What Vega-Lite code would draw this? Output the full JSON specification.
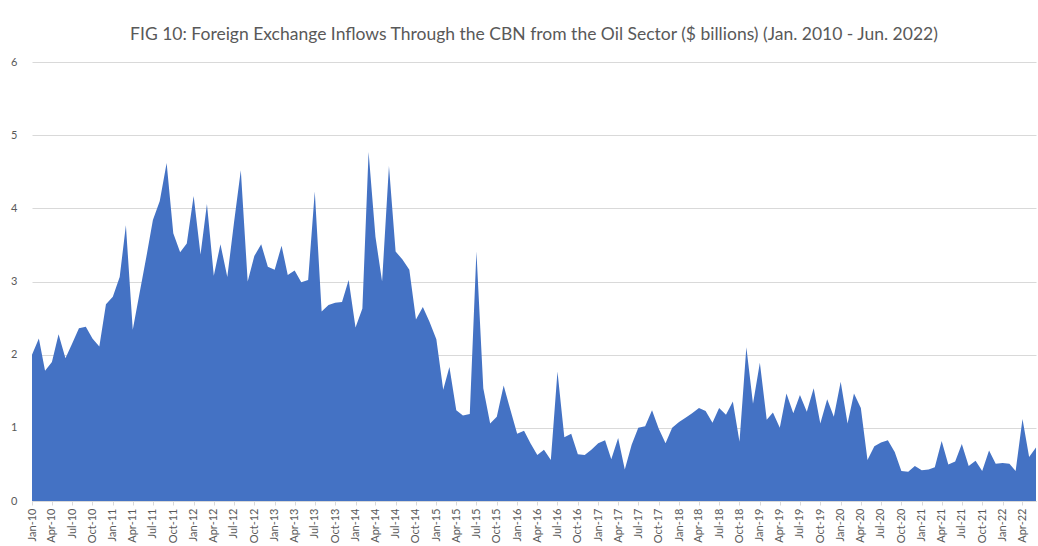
{
  "$schema": "https://vega.github.io/schema/vega-lite/v6.json",
  "autosize": "none",
  "width": 1004,
  "height": 439,
  "padding": {"left": 32, "top": 62, "right": 2, "bottom": 45},
  "background": "white",
  "title": {
    "text": "FIG 10: Foreign Exchange Inflows Through the CBN from the Oil Sector ($ billions) (Jan. 2010  - Jun. 2022)",
    "font": "Lato",
    "fontSize": 17.5,
    "fontWeight": "normal",
    "color": "#595959",
    "anchor": "middle",
    "offset": 13
  },
  "config": {
    "view": {"stroke": null},
    "axis": {"labelFont": "Lato", "labelColor": "#595959", "labelFontSize": 11}
  },
  "data": {
    "values": [
      {"m": "2010-01-01", "v": 2.00}, {"m": "2010-02-01", "v": 2.22}, {"m": "2010-03-01", "v": 1.78}, {"m": "2010-04-01", "v": 1.90},
      {"m": "2010-05-01", "v": 2.28}, {"m": "2010-06-01", "v": 1.95}, {"m": "2010-07-01", "v": 2.15}, {"m": "2010-08-01", "v": 2.36},
      {"m": "2010-09-01", "v": 2.38}, {"m": "2010-10-01", "v": 2.22}, {"m": "2010-11-01", "v": 2.11}, {"m": "2010-12-01", "v": 2.69},
      {"m": "2011-01-01", "v": 2.79}, {"m": "2011-02-01", "v": 3.06}, {"m": "2011-03-01", "v": 3.77}, {"m": "2011-04-01", "v": 2.34},
      {"m": "2011-05-01", "v": 2.83}, {"m": "2011-06-01", "v": 3.33}, {"m": "2011-07-01", "v": 3.84}, {"m": "2011-08-01", "v": 4.10},
      {"m": "2011-09-01", "v": 4.62}, {"m": "2011-10-01", "v": 3.66}, {"m": "2011-11-01", "v": 3.40}, {"m": "2011-12-01", "v": 3.52},
      {"m": "2012-01-01", "v": 4.17}, {"m": "2012-02-01", "v": 3.37}, {"m": "2012-03-01", "v": 4.06}, {"m": "2012-04-01", "v": 3.08},
      {"m": "2012-05-01", "v": 3.51}, {"m": "2012-06-01", "v": 3.06}, {"m": "2012-07-01", "v": 3.80}, {"m": "2012-08-01", "v": 4.52},
      {"m": "2012-09-01", "v": 3.00}, {"m": "2012-10-01", "v": 3.35}, {"m": "2012-11-01", "v": 3.51}, {"m": "2012-12-01", "v": 3.20},
      {"m": "2013-01-01", "v": 3.16}, {"m": "2013-02-01", "v": 3.49}, {"m": "2013-03-01", "v": 3.09}, {"m": "2013-04-01", "v": 3.15},
      {"m": "2013-05-01", "v": 2.99}, {"m": "2013-06-01", "v": 3.02}, {"m": "2013-07-01", "v": 4.23}, {"m": "2013-08-01", "v": 2.59},
      {"m": "2013-09-01", "v": 2.68}, {"m": "2013-10-01", "v": 2.71}, {"m": "2013-11-01", "v": 2.72}, {"m": "2013-12-01", "v": 3.02},
      {"m": "2014-01-01", "v": 2.37}, {"m": "2014-02-01", "v": 2.63}, {"m": "2014-03-01", "v": 4.77}, {"m": "2014-04-01", "v": 3.61},
      {"m": "2014-05-01", "v": 3.00}, {"m": "2014-06-01", "v": 4.58}, {"m": "2014-07-01", "v": 3.41}, {"m": "2014-08-01", "v": 3.30},
      {"m": "2014-09-01", "v": 3.16}, {"m": "2014-10-01", "v": 2.48}, {"m": "2014-11-01", "v": 2.65}, {"m": "2014-12-01", "v": 2.45},
      {"m": "2015-01-01", "v": 2.21}, {"m": "2015-02-01", "v": 1.52}, {"m": "2015-03-01", "v": 1.83}, {"m": "2015-04-01", "v": 1.24},
      {"m": "2015-05-01", "v": 1.17}, {"m": "2015-06-01", "v": 1.19}, {"m": "2015-07-01", "v": 3.41}, {"m": "2015-08-01", "v": 1.54},
      {"m": "2015-09-01", "v": 1.06}, {"m": "2015-10-01", "v": 1.15}, {"m": "2015-11-01", "v": 1.58}, {"m": "2015-12-01", "v": 1.25},
      {"m": "2016-01-01", "v": 0.92}, {"m": "2016-02-01", "v": 0.96}, {"m": "2016-03-01", "v": 0.79}, {"m": "2016-04-01", "v": 0.63},
      {"m": "2016-05-01", "v": 0.70}, {"m": "2016-06-01", "v": 0.56}, {"m": "2016-07-01", "v": 1.77}, {"m": "2016-08-01", "v": 0.87},
      {"m": "2016-09-01", "v": 0.92}, {"m": "2016-10-01", "v": 0.64}, {"m": "2016-11-01", "v": 0.63}, {"m": "2016-12-01", "v": 0.70},
      {"m": "2017-01-01", "v": 0.79}, {"m": "2017-02-01", "v": 0.83}, {"m": "2017-03-01", "v": 0.57}, {"m": "2017-04-01", "v": 0.86},
      {"m": "2017-05-01", "v": 0.43}, {"m": "2017-06-01", "v": 0.77}, {"m": "2017-07-01", "v": 1.00}, {"m": "2017-08-01", "v": 1.02},
      {"m": "2017-09-01", "v": 1.24}, {"m": "2017-10-01", "v": 0.99}, {"m": "2017-11-01", "v": 0.79}, {"m": "2017-12-01", "v": 1.00},
      {"m": "2018-01-01", "v": 1.08}, {"m": "2018-02-01", "v": 1.14}, {"m": "2018-03-01", "v": 1.20}, {"m": "2018-04-01", "v": 1.27},
      {"m": "2018-05-01", "v": 1.23}, {"m": "2018-06-01", "v": 1.07}, {"m": "2018-07-01", "v": 1.27}, {"m": "2018-08-01", "v": 1.18},
      {"m": "2018-09-01", "v": 1.36}, {"m": "2018-10-01", "v": 0.81}, {"m": "2018-11-01", "v": 2.10}, {"m": "2018-12-01", "v": 1.33},
      {"m": "2019-01-01", "v": 1.89}, {"m": "2019-02-01", "v": 1.11}, {"m": "2019-03-01", "v": 1.21}, {"m": "2019-04-01", "v": 1.00},
      {"m": "2019-05-01", "v": 1.47}, {"m": "2019-06-01", "v": 1.20}, {"m": "2019-07-01", "v": 1.45}, {"m": "2019-08-01", "v": 1.22},
      {"m": "2019-09-01", "v": 1.54}, {"m": "2019-10-01", "v": 1.06}, {"m": "2019-11-01", "v": 1.39}, {"m": "2019-12-01", "v": 1.15},
      {"m": "2020-01-01", "v": 1.63}, {"m": "2020-02-01", "v": 1.06}, {"m": "2020-03-01", "v": 1.47}, {"m": "2020-04-01", "v": 1.27},
      {"m": "2020-05-01", "v": 0.56}, {"m": "2020-06-01", "v": 0.75}, {"m": "2020-07-01", "v": 0.80}, {"m": "2020-08-01", "v": 0.83},
      {"m": "2020-09-01", "v": 0.67}, {"m": "2020-10-01", "v": 0.41}, {"m": "2020-11-01", "v": 0.40}, {"m": "2020-12-01", "v": 0.48},
      {"m": "2021-01-01", "v": 0.42}, {"m": "2021-02-01", "v": 0.43}, {"m": "2021-03-01", "v": 0.46}, {"m": "2021-04-01", "v": 0.82},
      {"m": "2021-05-01", "v": 0.50}, {"m": "2021-06-01", "v": 0.54}, {"m": "2021-07-01", "v": 0.78}, {"m": "2021-08-01", "v": 0.48},
      {"m": "2021-09-01", "v": 0.55}, {"m": "2021-10-01", "v": 0.41}, {"m": "2021-11-01", "v": 0.69}, {"m": "2021-12-01", "v": 0.51},
      {"m": "2022-01-01", "v": 0.52}, {"m": "2022-02-01", "v": 0.51}, {"m": "2022-03-01", "v": 0.41}, {"m": "2022-04-01", "v": 1.12},
      {"m": "2022-05-01", "v": 0.60}, {"m": "2022-06-01", "v": 0.73}
    ]
  },
  "mark": {"type": "area", "color": "#4472C4", "opacity": 1},
  "encoding": {
    "x": {
      "field": "m",
      "type": "temporal",
      "timeUnit": "utcyearmonth",
      "scale": {"domain": [{"year": 2010, "month": 1, "date": 1, "utc": true}, {"year": 2022, "month": 6, "date": 1, "utc": true}], "nice": false},
      "axis": {
        "title": null,
        "labelExpr": "utcFormat(datum.value, '%b-%y')",
        "tickCount": {"interval": "month", "step": 3},
        "labelAngle": -90,
        "labelAlign": "right",
        "labelBaseline": "middle",
        "labelOverlap": false,
        "labelFlush": false,
        "labelPadding": 3,
        "tickSize": 4,
        "tickColor": "#d9d9d9",
        "domainColor": "#d9d9d9",
        "grid": false
      }
    },
    "y": {
      "field": "v",
      "type": "quantitative",
      "scale": {"domain": [0, 6], "nice": false},
      "axis": {
        "title": null,
        "values": [0, 1, 2, 3, 4, 5, 6],
        "domain": false,
        "ticks": false,
        "labelPadding": 15,
        "gridColor": "#d9d9d9",
        "gridWidth": 1
      }
    }
  }
}
